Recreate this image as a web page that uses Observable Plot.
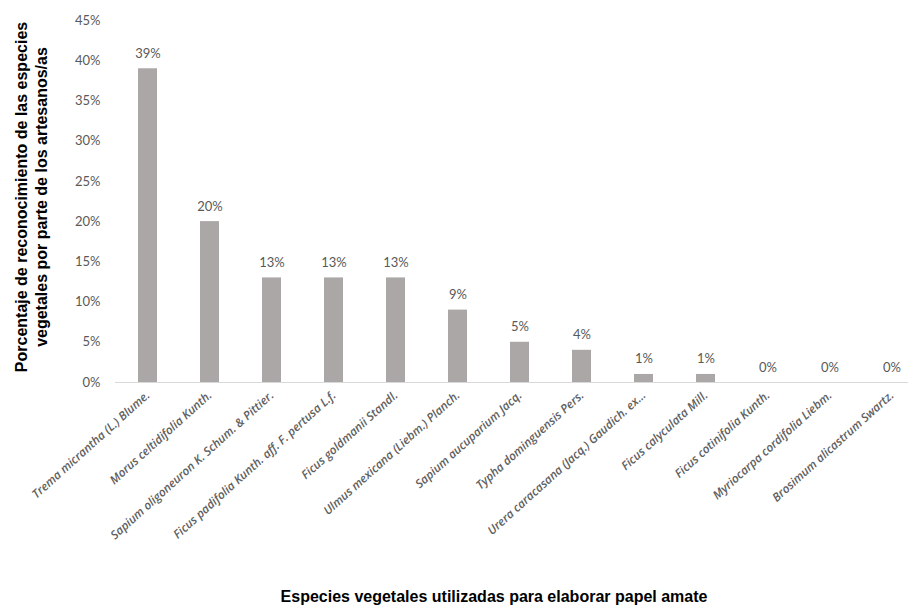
<!DOCTYPE html>
<html>
<head>
<meta charset="utf-8">
<script src="https://cdn.jsdelivr.net/npm/d3@7"></script>
<script src="https://cdn.jsdelivr.net/npm/@observablehq/plot@0.6"></script>
<style>
  html, body { margin: 0; padding: 0; background: #fff; }
  #wrap { position: relative; width: 915px; height: 611px; overflow: hidden; }
  #ytitle {
    position: absolute; left: 32px; top: 197px;
    transform: translate(-50%, -50%) rotate(-90deg);
    font: bold 16px "Liberation Sans", Arial, sans-serif; color: #000;
    text-align: center; white-space: nowrap; line-height: 20px;
  }
  #xtitle {
    position: absolute; left: 494px; top: 597px;
    transform: translate(-50%, -50%);
    font: bold 16px "Liberation Sans", Arial, sans-serif; color: #000;
    white-space: nowrap;
  }
</style>
</head>
<body>
<div id="wrap"></div>
<script>
const species = [
  "Trema micrantha (L.) Blume.",
  "Morus celtidifolia Kunth.",
  "Sapium oligoneuron K. Schum. & Pittier.",
  "Ficus padifolia Kunth. aff. F. pertusa L.f.",
  "Ficus goldmanii Standl.",
  "Ulmus mexicana (Liebm.) Planch.",
  "Sapium aucuparium Jacq.",
  "Typha dominguensis Pers.",
  "Urera caracasana (Jacq.) Gaudich. ex…",
  "Ficus calyculata Mill.",
  "Ficus cotinifolia Kunth.",
  "Myriocarpa cordifolia Liebm.",
  "Brosimum alicastrum Swartz."
];
const percents = [39, 20, 13, 13, 13, 9, 5, 4, 1, 1, 0, 0, 0];
const yTicks = [0, 5, 10, 15, 20, 25, 30, 35, 40, 45];
const yTitle = ["Porcentaje de reconocimiento de las especies", "vegetales por parte de los artesanos/as"];
const xTitle = "Especies vegetales utilizadas para elaborar papel amate";

const data = species.map((s, i) => ({species: s, value: percents[i]}));

const chart = Plot.plot({
  width: 915,
  height: 611,
  marginTop: 20,
  marginBottom: 229,
  marginLeft: 115,
  marginRight: 7,
  style: {fontFamily: "Lato, 'Open Sans', sans-serif", background: "transparent"},
  x: {domain: species, range: [113, 926], paddingInner: 0.7, paddingOuter: 0.35, label: null},
  y: {domain: [0, 45], label: null},
  marks: [
    Plot.axisY({ticks: yTicks, tickFormat: d => d + "%", tickSize: 0, tickPadding: 15,
      fontSize: 13, fill: "#595959", label: null}),
    Plot.axisX({tickRotate: -42, tickSize: 0, tickPadding: 11, fontSize: 11.8,
      fontStyle: "italic", fontWeight: 600, fontFamily: "'Open Sans', sans-serif", fill: "#606060", label: null}),
    Plot.barY(data, {x: "species", y: "value", fill: "#aba7a6"}),
    Plot.ruleY([0], {stroke: "#d9d9d9", strokeWidth: 1}),
    Plot.text(data, {x: "species", y: "value", text: d => Math.round(d.value) + "%",
      lineAnchor: "bottom", dy: -11, fontSize: 13, fill: "#595959"})
  ]
});

const wrap = document.getElementById("wrap");
wrap.appendChild(chart);
const yt = document.createElement("div");
yt.id = "ytitle";
yt.innerHTML = yTitle.join("<br>");
wrap.appendChild(yt);
const xt = document.createElement("div");
xt.id = "xtitle";
xt.textContent = xTitle;
wrap.appendChild(xt);
</script>
</body>
</html>
